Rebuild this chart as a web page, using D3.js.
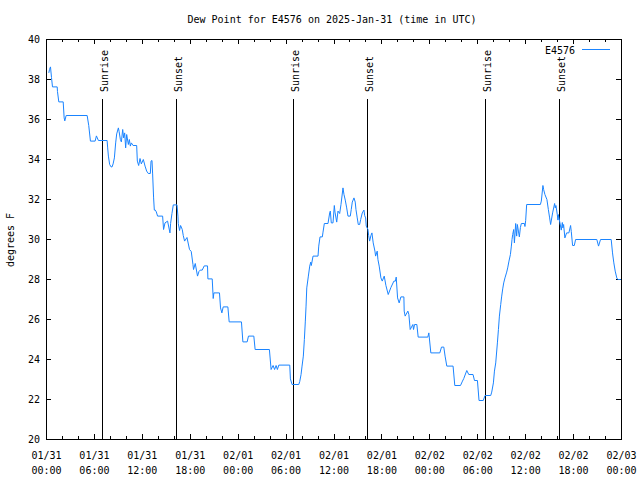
<!DOCTYPE html>
<html><head><meta charset="utf-8">
<script src="https://cdn.jsdelivr.net/npm/d3@7"></script>
<style>body{margin:0;background:#fff}svg{display:block}</style>
</head><body><svg id="chart" width="640" height="480"></svg>
<script>
const chartTitle = "Dew Point for E4576 on 2025-Jan-31 (time in UTC)";
const seriesName = "E4576";
const yAxisLabel = "degrees F";
const yTickValues = [20, 22, 24, 26, 28, 30, 32, 34, 36, 38, 40];
const xMajorTickHours = [0, 6, 12, 18, 24, 30, 36, 42, 48, 54, 60, 66, 72];
const sunEventHours = [7.0, 16.28, 30.93, 40.19, 54.97, 64.24];
const sunEventLabels = ["Sunrise", "Sunset", "Sunrise", "Sunset", "Sunrise", "Sunset"];

// hours since 2025-01-31 00:00 UTC
const hours = [
  0.29,0.375,0.5,0.625,0.75,1.34,1.375,1.54,2.09,2.21,
  2.29,2.46,5.09,5.29,5.5,6.09,6.25,6.5,7.59,7.66,
  7.75,7.91,8.09,8.21,8.34,8.5,8.66,8.79,9.0,9.09,
  9.25,9.375,9.54,9.66,9.79,9.91,10.04,10.25,10.375,10.5,
  10.625,10.84,11.29,11.375,11.54,11.71,11.875,12.125,12.34,12.54,
  12.75,13.0,13.09,13.21,13.29,13.41,13.5,13.625,13.75,13.91,
  14.54,14.66,14.84,15.16,15.46,15.54,15.71,15.875,16.34,16.46,
  16.5,16.66,16.79,17.0,17.125,17.29,17.59,17.91,18.125,18.34,
  18.41,18.625,18.91,19.09,19.25,19.5,19.75,20.16,20.21,20.75,
  20.875,20.96,21.66,21.79,21.96,22.125,22.71,22.875,24.41,24.59,
  25.125,25.29,25.96,26.125,27.91,28.125,28.375,28.56,28.75,28.91,
  29.09,30.46,30.54,30.75,31.59,31.71,31.875,32.0,32.16,32.29,
  32.41,32.5,32.59,32.79,32.96,33.09,33.16,33.375,34.0,34.09,
  34.25,34.54,34.625,34.79,35.25,35.46,35.54,35.66,35.875,36.04,
  36.125,36.34,36.5,36.71,36.875,37.125,37.25,37.41,37.59,37.75,
  38.04,38.16,38.29,38.5,38.66,38.75,38.91,39.04,39.21,39.34,
  39.54,39.75,39.84,39.96,40.04,40.25,40.34,40.46,40.625,40.75,
  40.91,41.125,41.21,41.41,41.5,41.66,41.875,42.04,42.29,42.5,
  42.79,43.125,43.5,43.69,43.79,43.96,44.16,44.375,44.75,44.79,
  44.91,45.25,45.375,45.54,45.875,45.96,46.09,46.375,46.54,47.75,
  47.875,48.125,49.25,49.46,49.75,49.91,50.125,50.91,51.125,51.84,
  52.09,52.25,52.625,52.875,53.41,53.59,53.96,54.16,54.69,54.91,
  55.625,55.75,55.96,56.09,56.25,56.46,56.59,56.71,56.875,57.0,
  57.125,57.25,57.41,57.625,57.75,57.91,58.09,58.21,58.29,58.375,
  58.5,58.59,58.75,58.875,58.96,59.09,59.21,59.34,59.46,59.84,
  59.91,60.0,60.125,61.84,61.96,62.16,62.25,62.41,62.66,62.84,
  63.0,63.125,63.375,63.625,63.71,63.79,63.96,64.04,64.09,64.29,
  64.46,64.59,64.66,64.75,64.91,65.125,65.41,65.625,65.71,65.875,
  66.09,66.25,68.91,69.125,69.375,70.71,70.875,71.04,71.21,71.41,
  71.54,71.91
];
const dewPointF = [
  38.33,38.5,38.63,38.1,37.63,37.63,37.4,36.88,36.88,36.08,
  35.93,36.2,36.2,35.7,34.92,34.92,35.18,34.95,34.95,34.58,
  34.17,33.75,33.63,33.63,33.78,34.08,34.83,35.28,35.58,35.4,
  35.0,34.88,35.5,35.08,35.33,34.58,35.25,34.75,35.0,34.67,
  34.83,34.7,34.7,33.92,33.7,34.05,33.78,34.0,33.67,33.42,
  33.3,33.3,33.92,33.95,33.28,32.08,31.47,31.47,31.38,31.17,
  31.17,30.5,30.83,30.92,30.33,30.8,31.3,31.73,31.73,31.17,
  30.8,30.45,30.7,30.5,30.2,29.92,30.1,29.5,29.4,28.75,
  28.5,28.8,28.17,28.4,28.47,28.47,28.68,28.68,28.03,28.03,
  27.05,27.33,27.33,26.58,26.33,26.63,26.63,25.88,25.88,24.88,
  24.88,25.17,25.17,24.5,24.5,23.5,23.7,23.5,23.7,23.5,
  23.72,23.72,23.03,22.75,22.75,22.9,23.25,23.67,24.17,25.0,
  25.92,26.67,27.58,28.17,28.67,28.87,28.7,29.17,29.17,29.67,
  30.13,30.13,30.37,30.8,30.8,31.33,31.42,30.83,30.83,31.7,
  31.37,30.87,31.42,31.3,31.75,32.58,32.25,31.97,31.58,31.17,
  31.17,31.5,31.87,32.08,31.87,31.5,31.08,30.75,30.75,31.0,
  31.33,31.47,31.2,31.08,30.67,30.5,30.2,29.92,30.2,30.33,
  29.83,29.42,29.17,29.42,29.0,28.67,28.08,27.92,28.17,27.7,
  27.25,27.6,27.92,27.92,28.12,27.08,26.83,27.13,27.13,26.42,
  26.17,26.42,26.25,25.5,25.75,25.5,25.75,25.75,25.12,25.12,
  25.33,24.33,24.33,24.62,24.62,24.17,23.67,23.67,22.7,22.7,
  22.92,23.05,23.45,23.25,23.25,22.95,22.95,21.95,21.95,22.2,
  22.2,22.37,22.83,23.42,23.83,24.83,25.5,26.17,26.75,27.17,
  27.53,27.83,28.08,28.37,28.58,28.92,29.25,29.67,30.0,30.25,
  30.5,29.83,30.8,30.17,30.75,30.42,30.13,30.6,30.8,30.8,
  30.65,30.95,31.75,31.75,31.92,32.7,32.5,32.25,32.0,31.5,
  31.08,30.75,31.33,31.8,31.58,31.7,31.25,30.97,31.25,30.83,
  30.47,30.85,30.58,30.75,30.08,30.33,30.33,30.7,30.4,29.7,
  29.7,30.0,30.0,29.67,30.0,30.0,29.33,28.83,28.42,28.08,
  28.0,28.0
];

(function () {
const startMs = Date.UTC(2025, 0, 31);
const toDate = h => new Date(startMs + h * 3600e3);
const data = hours.map((h, i) => ({ t: toDate(h), v: dewPointF[i] }));

const FONT = "'DejaVu Sans Mono', monospace";
const LINE_COLOR = "#1a84ff";
const pL = 46, pR = 621, pT = 39, pB = 439;

const svg = d3.select("#chart");
const x = d3.scaleUtc().domain([toDate(0), toDate(72)]).range([pL, pR]);
const y = d3.scaleLinear().domain([20, 40]).range([pB, pT]);

const majorDates = xMajorTickHours.map(toDate);
const minorDates = d3.range(0, 73, 2).filter(h => h % 6 !== 0).map(toDate);

function styleAxis(g) {
  g.select(".domain").remove();
  g.selectAll("line").attr("stroke", "#000").attr("shape-rendering", "crispEdges");
  g.selectAll("text").remove();
}

svg.append("g").attr("transform", `translate(0,${pB})`)
  .call(d3.axisBottom(x).tickValues(majorDates).tickSize(-5).tickFormat(() => "")).call(styleAxis);
svg.append("g").attr("transform", `translate(0,${pB})`)
  .call(d3.axisBottom(x).tickValues(minorDates).tickSize(-3).tickFormat(() => "")).call(styleAxis);
svg.append("g").attr("transform", `translate(0,${pT})`)
  .call(d3.axisTop(x).tickValues(majorDates).tickSize(-5).tickFormat(() => "")).call(styleAxis);
svg.append("g").attr("transform", `translate(0,${pT})`)
  .call(d3.axisTop(x).tickValues(minorDates).tickSize(-3).tickFormat(() => "")).call(styleAxis);
svg.append("g").attr("transform", `translate(${pL},0)`)
  .call(d3.axisLeft(y).tickValues(yTickValues).tickSize(-5).tickFormat(() => "")).call(styleAxis);
svg.append("g").attr("transform", `translate(${pR},0)`)
  .call(d3.axisRight(y).tickValues(yTickValues).tickSize(-5).tickFormat(() => "")).call(styleAxis);

svg.append("g").selectAll("text").data(yTickValues).join("text")
  .attr("x", 40).attr("y", d => y(d) + 0.5).attr("dy", "0.35em")
  .attr("text-anchor", "end").attr("font-family", FONT).attr("font-size", 10)
  .text(d => d);

const fmtDay = d3.utcFormat("%m/%d"), fmtTime = d3.utcFormat("%H:%M");
const xl = svg.append("g").selectAll("g").data(majorDates).join("g")
  .attr("transform", d => `translate(${x(d) + 0.5},0)`);
xl.append("text").attr("y", 459).attr("text-anchor", "middle")
  .attr("font-family", FONT).attr("font-size", 10).text(d => fmtDay(d));
xl.append("text").attr("y", 474).attr("text-anchor", "middle")
  .attr("font-family", FONT).attr("font-size", 10).text(d => fmtTime(d));

const sun = svg.append("g").selectAll("g").data(sunEventHours).join("g");
sun.append("line")
  .attr("x1", d => Math.round(x(toDate(d))) + 0.5).attr("x2", d => Math.round(x(toDate(d))) + 0.5)
  .attr("y1", 99).attr("y2", pB + 0.5)
  .attr("stroke", "#000").attr("shape-rendering", "crispEdges");
sun.append("text")
  .attr("transform", d => `translate(${Math.round(x(toDate(d))) + 5.5},92) rotate(-90)`)
  .attr("text-anchor", "start").attr("font-family", FONT).attr("font-size", 10)
  .text((d, i) => sunEventLabels[i]);

svg.append("path").datum(data)
  .attr("fill", "none").attr("stroke", LINE_COLOR).attr("stroke-width", 1)
  .attr("d", d3.line().x(d => x(d.t) + 0.5).y(d => y(d.v) + 0.5));

svg.append("rect").attr("x", pL + 0.5).attr("y", pT + 0.5)
  .attr("width", pR - pL).attr("height", pB - pT)
  .attr("fill", "none").attr("stroke", "#000").attr("shape-rendering", "crispEdges");

svg.append("text").attr("x", 332).attr("y", 23).attr("text-anchor", "middle")
  .attr("font-family", FONT).attr("font-size", 10).text(chartTitle);

svg.append("text").attr("transform", "translate(14,240) rotate(-90)")
  .attr("text-anchor", "middle").attr("font-family", FONT).attr("font-size", 10)
  .text(yAxisLabel);

svg.append("text").attr("x", 575).attr("y", 50).attr("dy", "0.35em")
  .attr("text-anchor", "end").attr("font-family", FONT).attr("font-size", 10).text(seriesName);
svg.append("line").attr("x1", 582).attr("x2", 610).attr("y1", 49.5).attr("y2", 49.5)
  .attr("stroke", LINE_COLOR).attr("shape-rendering", "crispEdges");
})();
</script></body></html>
